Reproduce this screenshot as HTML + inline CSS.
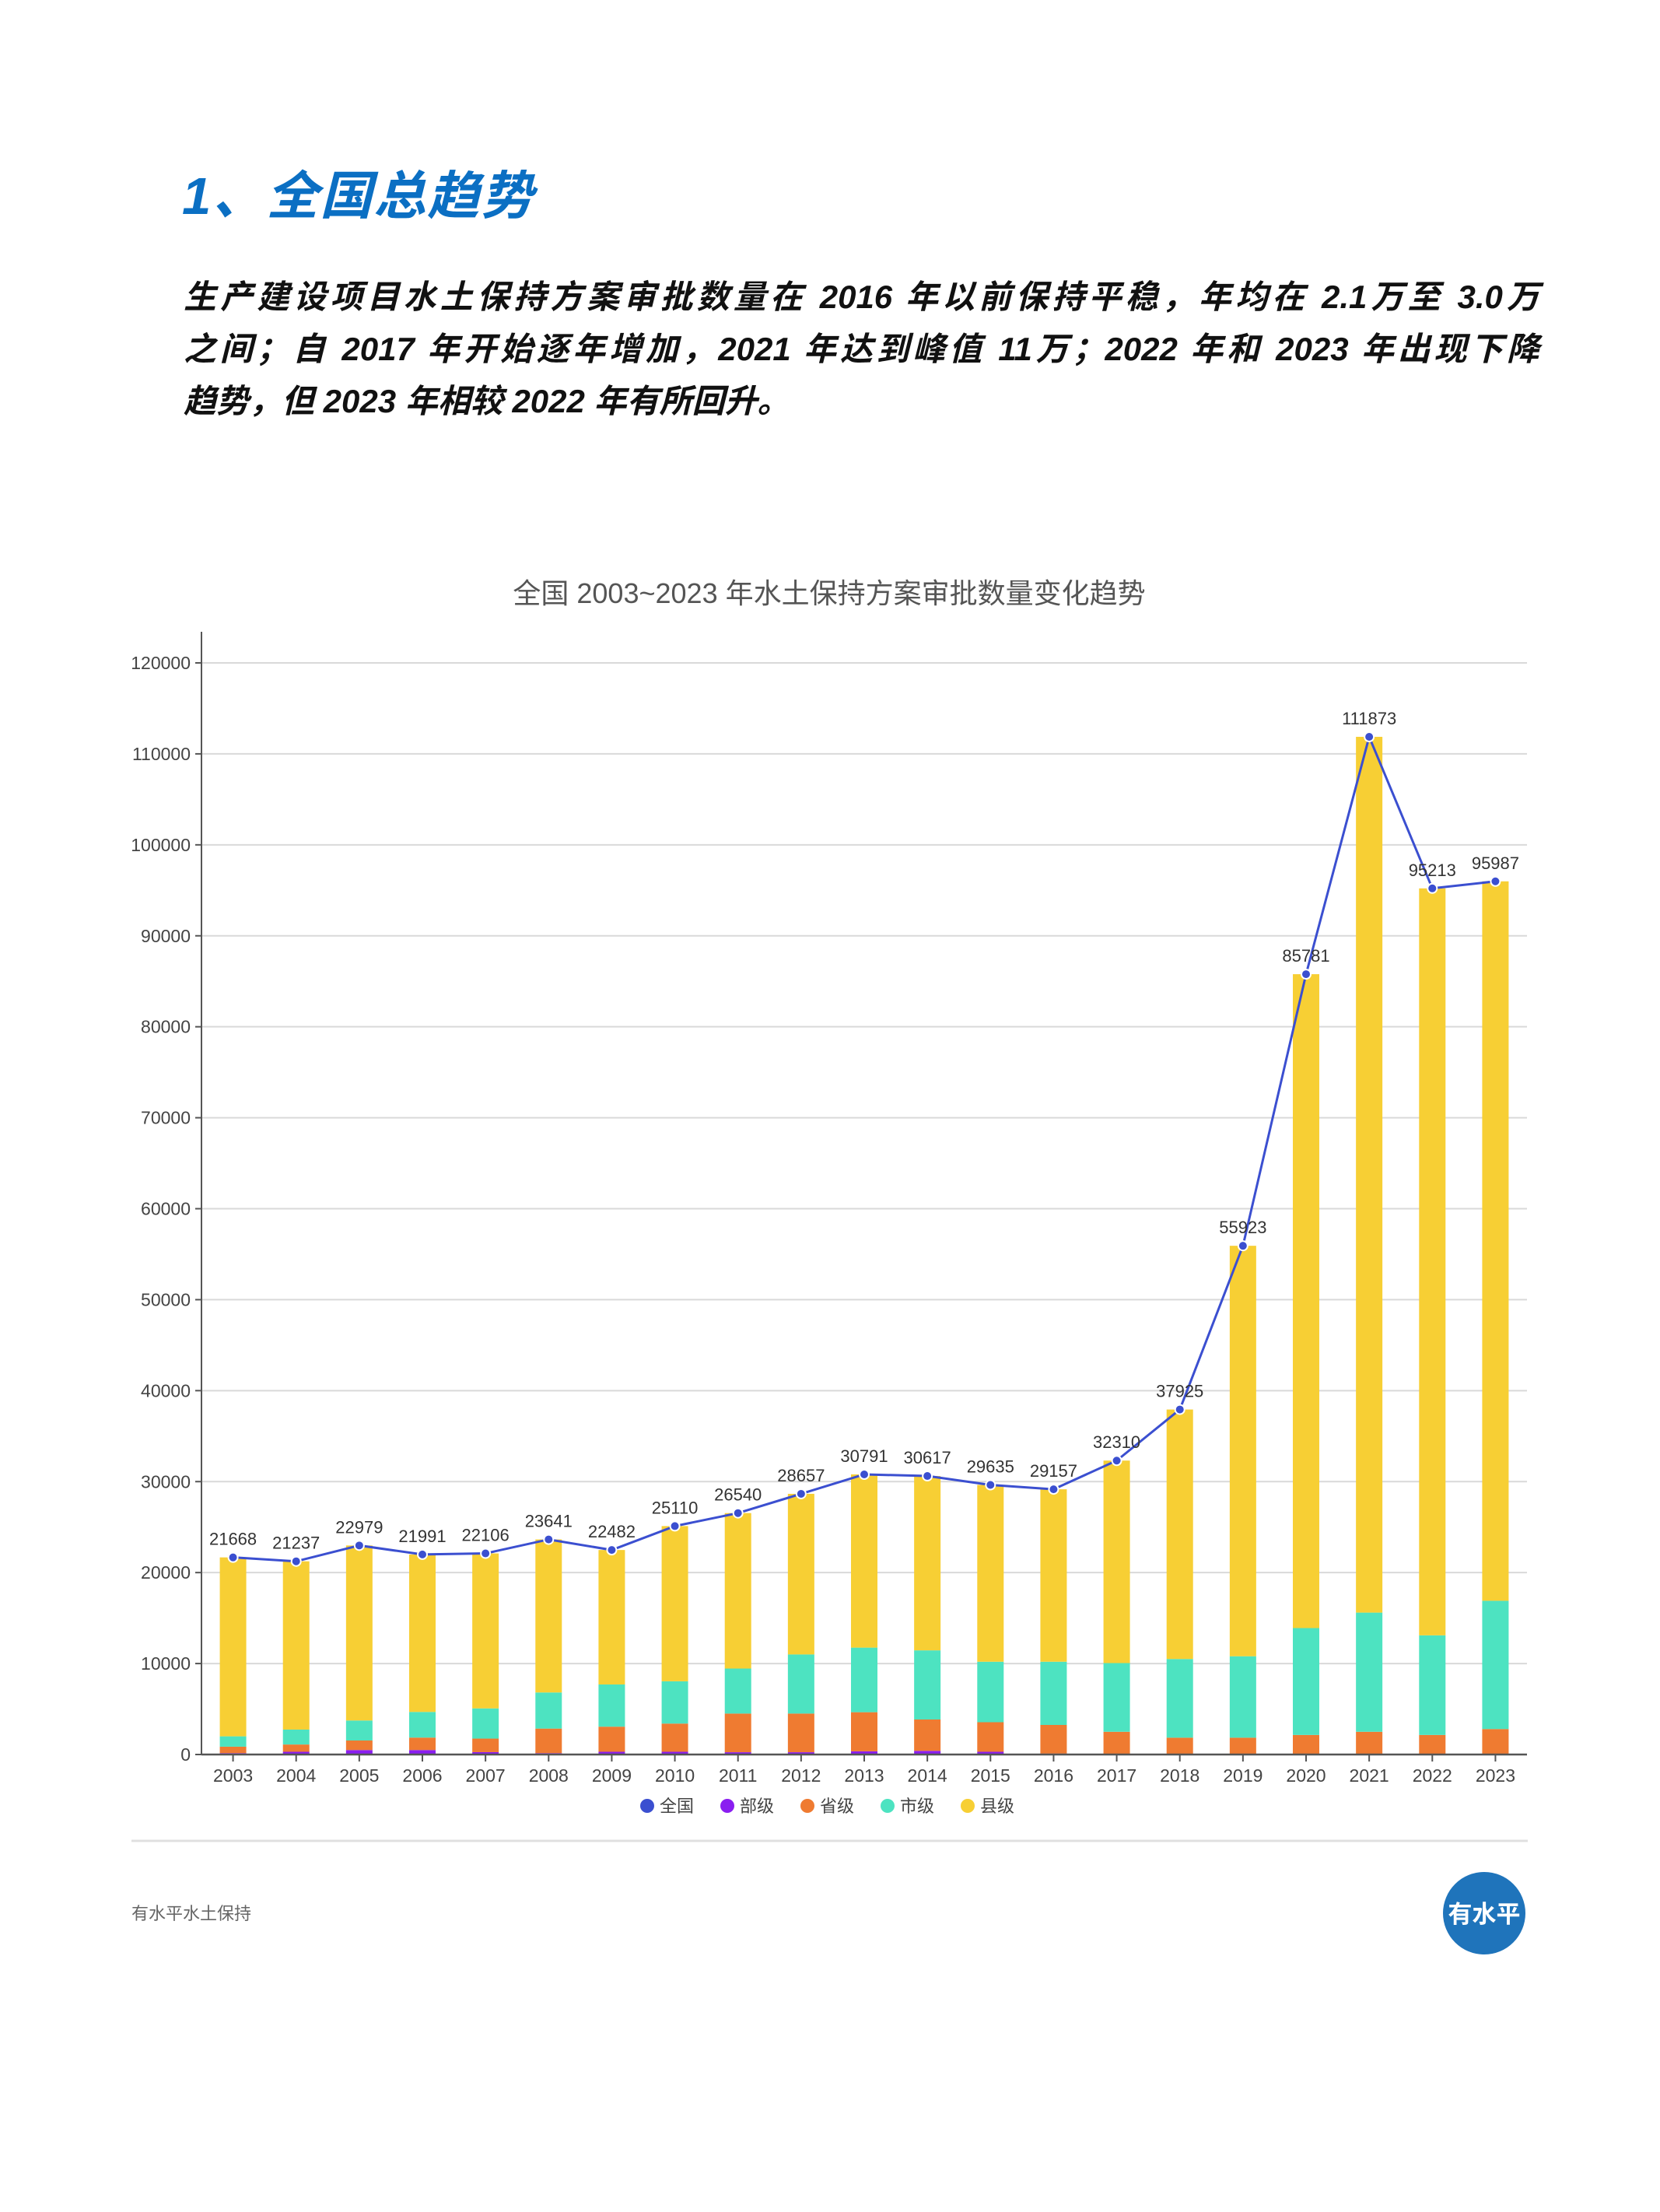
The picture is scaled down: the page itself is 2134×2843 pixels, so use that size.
<!DOCTYPE html>
<html><head><meta charset="utf-8">
<style>
html,body{margin:0;padding:0;background:#fff;}
body{width:2134px;height:2843px;position:relative;overflow:hidden;font-family:"Liberation Sans","Noto Sans CJK SC",sans-serif;}
#h1{position:absolute;left:234px;top:198px;font-size:67px;font-weight:700;font-style:italic;color:#0b6fc3;margin:0;letter-spacing:2px;}
#para{position:absolute;left:236px;top:348px;width:1743px;font-size:42px;line-height:67px;font-weight:700;font-style:italic;color:#111;margin:0;}
#para div{white-space:nowrap;}
#para .j{text-align:justify;text-align-last:justify;}
svg{position:absolute;left:0;top:0;}
</style></head>
<body>
<h1 id="h1">1、全国总趋势</h1>
<div id="para">
<div class="j">生产建设项目水土保持方案审批数量在 2016 年以前保持平稳，年均在 2.1万至 3.0万</div>
<div class="j">之间；自 2017 年开始逐年增加，2021 年达到峰值 11万；2022 年和 2023 年出现下降</div>
<div>趋势，但 2023 年相较 2022 年有所回升。</div>
</div>
<svg id="chart" width="2134" height="2843"></svg>
<script>
const years=["2003","2004","2005","2006","2007","2008","2009","2010","2011","2012","2013","2014","2015","2016","2017","2018","2019","2020","2021","2022","2023"];
const totals=[21668,21237,22979,21991,22106,23641,22482,25110,26540,28657,30791,30617,29635,29157,32310,37925,55923,85781,111873,95213,95987];
const ministry=[150,300,490,490,260,150,300,300,250,250,350,400,300,100,80,50,50,50,50,50,50];
const province=[860,1100,1540,1860,1750,2850,3060,3400,4500,4500,4650,3850,3550,3250,2500,1850,1850,2150,2500,2150,2800];
const cityCum=[2000,2740,3740,4680,5070,6820,7700,8050,9450,11000,11750,11450,10200,10200,10050,10500,10800,13900,15600,13100,16900];
const yTicks=[0,10000,20000,30000,40000,50000,60000,70000,80000,90000,100000,110000,120000];
const legendNames=["全国","部级","省级","市级","县级"];
const colors=["#3b4fd0","#8a1ef0","#ef7b31","#4de3c1","#f7cf34"];

const NS="http://www.w3.org/2000/svg";
const svg=document.getElementById('chart');
const X0=259,X1=1963,Y0=2255,Y1=852,YMAX=120000;
const band=(X1-X0)/years.length;
const xc=i=>X0+band*(i+0.5);
const y=v=>Y0-(v/YMAX)*(Y0-Y1);
function mk(tag,attrs,parent){const e=document.createElementNS(NS,tag);for(const k in attrs)e.setAttribute(k,attrs[k]);(parent||svg).appendChild(e);return e;}

let t=mk('text',{x:1066,y:775,'text-anchor':'middle','font-size':36,fill:'#555'});
t.textContent="全国 2003~2023 年水土保持方案审批数量变化趋势";



yTicks.forEach(v=>{
  if(v>0){const g=mk('line',{x1:X0,x2:X1,y1:y(v),y2:y(v),stroke:'#d9d9d9','stroke-width':2});
  
  }
  const tk=mk('line',{x1:X0-8,x2:X0,y1:y(v),y2:y(v),stroke:'#555','stroke-width':2});
  
  
  const l=mk('text',{x:X0-14,y:y(v)+8,'text-anchor':'end','font-size':23,fill:'#444'});
  l.textContent=v;
  
  
});
let ax=mk('line',{x1:X0,x2:X0,y1:812,y2:Y0,stroke:'#555','stroke-width':2});



const bw=34;
years.forEach((yr,i)=>{
  const segs=[[0,ministry[i],1],[ministry[i],province[i],2],[province[i],cityCum[i],3],[cityCum[i],totals[i],4]];
  const names=['bar-ministry-','bar-province-','bar-city-','bar-county-'];
  segs.forEach((s,k)=>{
    const r=mk('rect',{x:xc(i)-bw/2,y:y(s[1]),width:bw,height:Math.max(0,y(s[0])-y(s[1])),fill:colors[s[2]]});
    
    
  });
  const tk=mk('line',{x1:xc(i),x2:xc(i),y1:Y0,y2:Y0+9,stroke:'#555','stroke-width':2});
  
  
  const l=mk('text',{x:xc(i),y:Y0+35,'text-anchor':'middle','font-size':23,fill:'#444'});
  l.textContent=yr;
  
  
});
let xa=mk('line',{x1:X0,x2:X1,y1:Y0,y2:Y0,stroke:'#555','stroke-width':2.5});



const pts=totals.map((v,i)=>xc(i)+','+y(v)).join(' ');
let pl=mk('polyline',{points:pts,fill:'none',stroke:colors[0],'stroke-width':3});


totals.forEach((v,i)=>{
  const c=mk('circle',{cx:xc(i),cy:y(v),r:6,fill:colors[0],stroke:'#fff','stroke-width':2});
  
  
  const l=mk('text',{x:xc(i),y:y(v)-16,'text-anchor':'middle','font-size':22,fill:'#333'});
  l.textContent=v;
  
  
});

let lx=832;
legendNames.forEach((n,k)=>{
  const g=mk('g',{});
  
  
  mk('circle',{cx:lx,cy:2321,r:9,fill:colors[k]},g);
  const l=mk('text',{x:lx+16,y:2329,'font-size':22,fill:'#444'},g);
  l.textContent=n;
  lx+=103;
});

let sep=mk('line',{x1:169,x2:1964,y1:2366,y2:2366,stroke:'#e0e0e0','stroke-width':3});


let ft=mk('text',{x:169,y:2467,'font-size':22,fill:'#666'});
ft.textContent="有水平水土保持";


let lg=mk('circle',{cx:1908,cy:2459,r:53,fill:'#1f74bb'});


let lt=mk('text',{x:1908,y:2471,'text-anchor':'middle','font-size':31,'font-weight':700,fill:'#fff'});
lt.textContent="有水平";


</script>
</body></html>
